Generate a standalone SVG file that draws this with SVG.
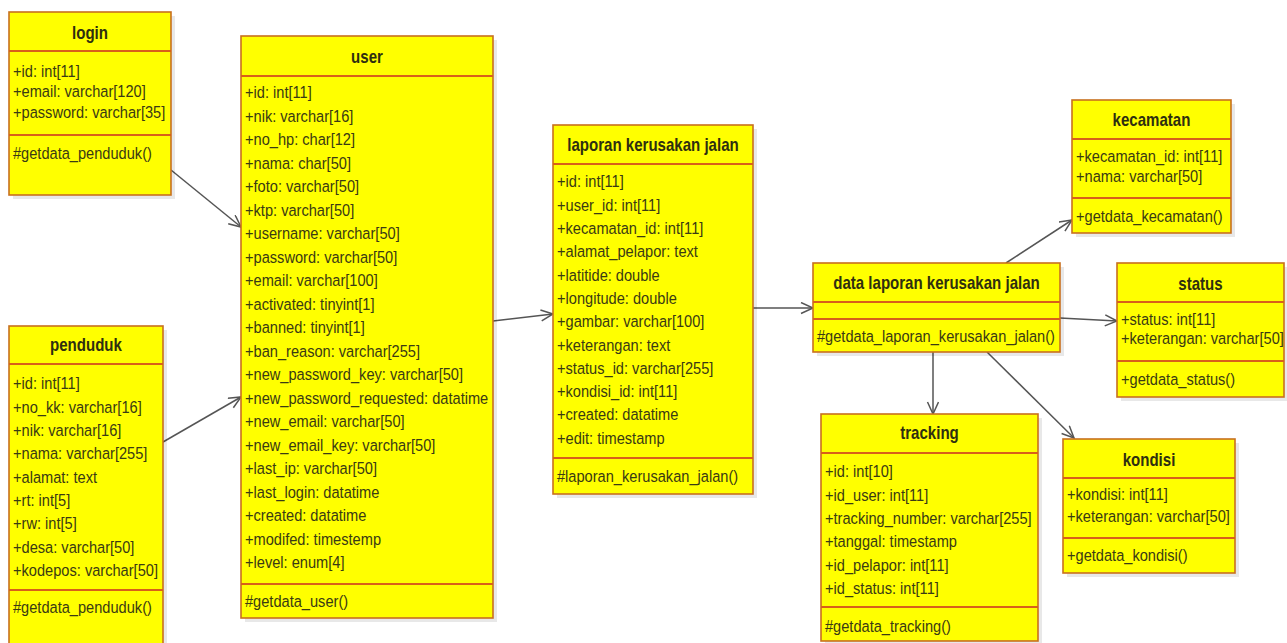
<svg xmlns="http://www.w3.org/2000/svg" width="1287" height="643" viewBox="0 0 1287 643">
<style>
.bg{fill:#ffffff}
.sh{fill:#000;opacity:0.09}
.box{fill:#ffff00;stroke:#c8701e;stroke-width:1.6}
.dv{stroke:#d8601a;stroke-width:2}
.t{font-family:"Liberation Sans",Arial,sans-serif;font-size:17px;fill:#3a3a14}
.h{font-weight:bold;font-size:17.5px;text-anchor:middle;fill:#2e2e10}
.c{stroke:#555;stroke-width:1.5;fill:none;marker-end:url(#arr)}
</style>
<defs>
<marker id="arr" markerUnits="userSpaceOnUse" markerWidth="16" markerHeight="14" refX="13" refY="6" orient="auto">
<path d="M1,0.5 L13,6 L1,11.5" fill="none" stroke="#555" stroke-width="1.5"/>
</marker>
</defs>
<rect class="bg" x="0" y="0" width="1287" height="643"/>

<g id="connectors">
<line class="c" x1="171" y1="170" x2="241" y2="227"/>
<line class="c" x1="163" y1="442" x2="241" y2="397"/>
<line class="c" x1="493" y1="321" x2="553" y2="314"/>
<line class="c" x1="753" y1="308" x2="813" y2="308"/>
<line class="c" x1="1006" y1="263" x2="1072" y2="220"/>
<line class="c" x1="1060" y1="318" x2="1117" y2="321"/>
<line class="c" x1="933" y1="352" x2="933" y2="414"/>
<line class="c" x1="987" y1="352" x2="1074" y2="438"/>
</g>

<g id="login">
<rect class="sh" x="13" y="16" width="162" height="183"/>
<rect class="box" x="9" y="12" width="162" height="183"/>
<line class="dv" x1="9" y1="51" x2="171" y2="51"/>
<line class="dv" x1="9" y1="135" x2="171" y2="135"/>
<g transform="translate(9,0) scale(0.86,1)">
<text class="t h" x="94.2" y="39">login</text>
<text class="t" x="4.65" y="77">+id: int[11]</text>
<text class="t" x="4.65" y="97">+email: varchar[120]</text>
<text class="t" x="4.65" y="118">+password: varchar[35]</text>
<text class="t" x="4.65" y="159">#getdata_penduduk()</text>
</g>
</g>

<g id="penduduk">
<rect class="sh" x="13" y="330" width="154" height="330"/>
<rect class="box" x="9" y="326" width="154" height="330"/>
<line class="dv" x1="9" y1="364" x2="163" y2="364"/>
<line class="dv" x1="9" y1="590" x2="163" y2="590"/>
<g transform="translate(9,0) scale(0.86,1)">
<text class="t h" x="89.5" y="351">penduduk</text>
<text class="t" x="4.65" y="389.5">+id: int[11]</text>
<text class="t" x="4.65" y="412.8">+no_kk: varchar[16]</text>
<text class="t" x="4.65" y="436.1">+nik: varchar[16]</text>
<text class="t" x="4.65" y="459.4">+nama: varchar[255]</text>
<text class="t" x="4.65" y="482.7">+alamat: text</text>
<text class="t" x="4.65" y="506">+rt: int[5]</text>
<text class="t" x="4.65" y="529.3">+rw: int[5]</text>
<text class="t" x="4.65" y="552.6">+desa: varchar[50]</text>
<text class="t" x="4.65" y="575.9">+kodepos: varchar[50]</text>
<text class="t" x="4.65" y="613.5">#getdata_penduduk()</text>
</g>
</g>

<g id="user">
<rect class="sh" x="245" y="40" width="252" height="582"/>
<rect class="box" x="241" y="36" width="252" height="582"/>
<line class="dv" x1="241" y1="76" x2="493" y2="76"/>
<line class="dv" x1="241" y1="584" x2="493" y2="584"/>
<g transform="translate(241,0) scale(0.86,1)">
<text class="t h" x="146.5" y="63">user</text>
<text class="t" x="4.65" y="98.5">+id: int[11]</text>
<text class="t" x="4.65" y="122">+nik: varchar[16]</text>
<text class="t" x="4.65" y="145.5">+no_hp: char[12]</text>
<text class="t" x="4.65" y="169">+nama: char[50]</text>
<text class="t" x="4.65" y="192.5">+foto: varchar[50]</text>
<text class="t" x="4.65" y="216">+ktp: varchar[50]</text>
<text class="t" x="4.65" y="239.5">+username: varchar[50]</text>
<text class="t" x="4.65" y="263">+password: varchar[50]</text>
<text class="t" x="4.65" y="286.5">+email: varchar[100]</text>
<text class="t" x="4.65" y="310">+activated: tinyint[1]</text>
<text class="t" x="4.65" y="333.5">+banned: tinyint[1]</text>
<text class="t" x="4.65" y="357">+ban_reason: varchar[255]</text>
<text class="t" x="4.65" y="380.5">+new_password_key: varchar[50]</text>
<text class="t" x="4.65" y="404">+new_password_requested: datatime</text>
<text class="t" x="4.65" y="427.5">+new_email: varchar[50]</text>
<text class="t" x="4.65" y="451">+new_email_key: varchar[50]</text>
<text class="t" x="4.65" y="474.5">+last_ip: varchar[50]</text>
<text class="t" x="4.65" y="498">+last_login: datatime</text>
<text class="t" x="4.65" y="521.5">+created: datatime</text>
<text class="t" x="4.65" y="545">+modifed: timestemp</text>
<text class="t" x="4.65" y="568.5">+level: enum[4]</text>
<text class="t" x="4.65" y="607.5">#getdata_user()</text>
</g>
</g>

<g id="laporan">
<rect class="sh" x="557" y="129" width="200" height="369"/>
<rect class="box" x="553" y="125" width="200" height="369"/>
<line class="dv" x1="553" y1="164" x2="753" y2="164"/>
<line class="dv" x1="553" y1="458" x2="753" y2="458"/>
<g transform="translate(553,0) scale(0.86,1)">
<text class="t h" x="116.3" y="151">laporan kerusakan jalan</text>
<text class="t" x="4.65" y="187.5">+id: int[11]</text>
<text class="t" x="4.65" y="210.8">+user_id: int[11]</text>
<text class="t" x="4.65" y="234.1">+kecamatan_id: int[11]</text>
<text class="t" x="4.65" y="257.4">+alamat_pelapor: text</text>
<text class="t" x="4.65" y="280.7">+latitide: double</text>
<text class="t" x="4.65" y="304">+longitude: double</text>
<text class="t" x="4.65" y="327.3">+gambar: varchar[100]</text>
<text class="t" x="4.65" y="350.6">+keterangan: text</text>
<text class="t" x="4.65" y="373.9">+status_id: varchar[255]</text>
<text class="t" x="4.65" y="397.2">+kondisi_id: int[11]</text>
<text class="t" x="4.65" y="420.5">+created: datatime</text>
<text class="t" x="4.65" y="443.8">+edit: timestamp</text>
<text class="t" x="4.65" y="482.5">#laporan_kerusakan_jalan()</text>
</g>
</g>

<g id="data_laporan">
<rect class="sh" x="817" y="267" width="247" height="89"/>
<rect class="box" x="813" y="263" width="247" height="89"/>
<line class="dv" x1="813" y1="302" x2="1060" y2="302"/>
<line class="dv" x1="813" y1="319" x2="1060" y2="319"/>
<g transform="translate(813,0) scale(0.86,1)">
<text class="t h" x="143.6" y="289">data laporan kerusakan jalan</text>
<text class="t" x="4.65" y="342">#getdata_laporan_kerusakan_jalan()</text>
</g>
</g>

<g id="kecamatan">
<rect class="sh" x="1076" y="104" width="159" height="133"/>
<rect class="box" x="1072" y="100" width="159" height="133"/>
<line class="dv" x1="1072" y1="139" x2="1231" y2="139"/>
<line class="dv" x1="1072" y1="198" x2="1231" y2="198"/>
<g transform="translate(1072,0) scale(0.86,1)">
<text class="t h" x="92.4" y="126">kecamatan</text>
<text class="t" x="4.65" y="162.5">+kecamatan_id: int[11]</text>
<text class="t" x="4.65" y="182.5">+nama: varchar[50]</text>
<text class="t" x="4.65" y="222.5">+getdata_kecamatan()</text>
</g>
</g>

<g id="status">
<rect class="sh" x="1121" y="267" width="167" height="134"/>
<rect class="box" x="1117" y="263" width="167" height="134"/>
<line class="dv" x1="1117" y1="302" x2="1284" y2="302"/>
<line class="dv" x1="1117" y1="361" x2="1284" y2="361"/>
<g transform="translate(1117,0) scale(0.86,1)">
<text class="t h" x="97.1" y="290">status</text>
<text class="t" x="4.65" y="325.5">+status: int[11]</text>
<text class="t" x="4.65" y="344.5">+keterangan: varchar[50]</text>
<text class="t" x="4.65" y="385.5">+getdata_status()</text>
</g>
</g>

<g id="tracking">
<rect class="sh" x="825" y="418" width="217" height="228"/>
<rect class="box" x="821" y="414" width="217" height="227"/>
<line class="dv" x1="821" y1="453" x2="1038" y2="453"/>
<line class="dv" x1="821" y1="607" x2="1038" y2="607"/>
<g transform="translate(821,0) scale(0.86,1)">
<text class="t h" x="126.2" y="439">tracking</text>
<text class="t" x="4.65" y="477.5">+id: int[10]</text>
<text class="t" x="4.65" y="500.8">+id_user: int[11]</text>
<text class="t" x="4.65" y="524.1">+tracking_number: varchar[255]</text>
<text class="t" x="4.65" y="547.4">+tanggal: timestamp</text>
<text class="t" x="4.65" y="570.7">+id_pelapor: int[11]</text>
<text class="t" x="4.65" y="594">+id_status: int[11]</text>
<text class="t" x="4.65" y="632.5">#getdata_tracking()</text>
</g>
</g>

<g id="kondisi">
<rect class="sh" x="1067" y="443" width="172" height="134"/>
<rect class="box" x="1063" y="439" width="172" height="134"/>
<line class="dv" x1="1063" y1="478" x2="1235" y2="478"/>
<line class="dv" x1="1063" y1="538" x2="1235" y2="538"/>
<g transform="translate(1063,0) scale(0.86,1)">
<text class="t h" x="100" y="466">kondisi</text>
<text class="t" x="4.65" y="500.5">+kondisi: int[11]</text>
<text class="t" x="4.65" y="522.5">+keterangan: varchar[50]</text>
<text class="t" x="4.65" y="561.5">+getdata_kondisi()</text>
</g>
</g>
</svg>
